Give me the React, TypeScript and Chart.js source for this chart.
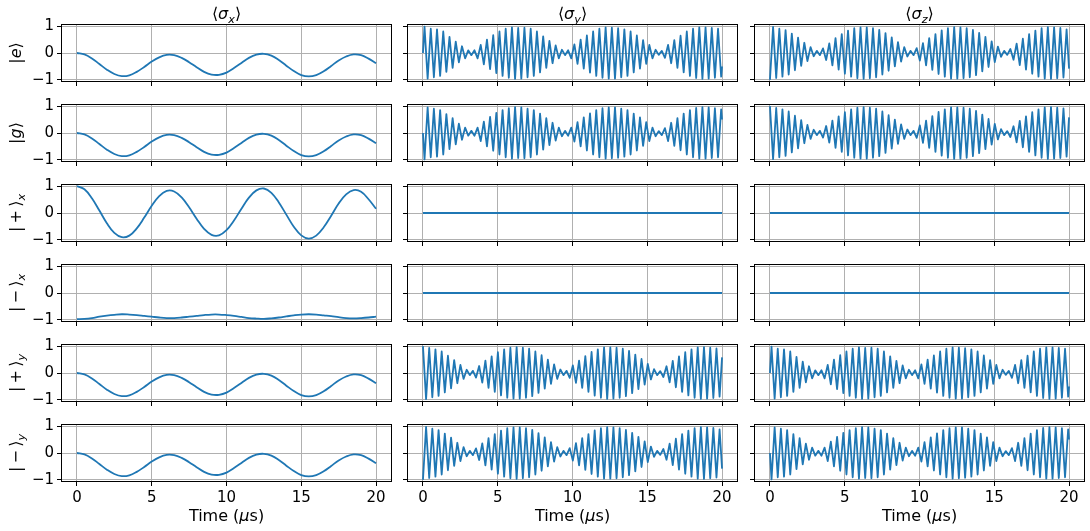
import { useEffect, useRef } from "react";
import { Chart, registerables } from "chart.js";

Chart.register(...registerables);

// ---------------- DATA ----------------
type Seg = { t: string; i?: boolean; sub?: boolean };

const columnTitles: Seg[][] = [
  [{ t: "\u27E8" }, { t: "σ", i: true }, { t: "x", i: true, sub: true }, { t: "\u27E9" }],
  [{ t: "\u27E8" }, { t: "σ", i: true }, { t: "y", i: true, sub: true }, { t: "\u27E9" }],
  [{ t: "\u27E8" }, { t: "σ", i: true }, { t: "z", i: true, sub: true }, { t: "\u27E9" }],
];

const rowLabels: Seg[][] = [
  [{ t: "|" }, { t: "e", i: true }, { t: "\u27E9" }],
  [{ t: "|" }, { t: "g", i: true }, { t: "\u27E9" }],
  [{ t: "|\u2009+\u2009\u27E9" }, { t: "x", i: true, sub: true }],
  [{ t: "|\u2009\u2212\u2009\u27E9" }, { t: "x", i: true, sub: true }],
  [{ t: "|\u2009+\u2009\u27E9" }, { t: "y", i: true, sub: true }],
  [{ t: "|\u2009\u2212\u2009\u27E9" }, { t: "y", i: true, sub: true }],
];

const xAxisLabel: Seg[] = [{ t: "Time (" }, { t: "μ", i: true }, { t: "s)" }];

const xTickValues = [0, 5, 10, 15, 20];
const yTickValues = [-1, 0, 1];

// slow ⟨σx⟩ curves, sampled every 0.5 µs
const slowTimes = Array.from({ length: 41 }, (_, i) => i * 0.5);
const sigmaXCommon = [
  0, -0.05, -0.2, -0.41, -0.62, -0.78, -0.86, -0.83, -0.7, -0.52, -0.32, -0.16, -0.07, -0.08,
  -0.18, -0.34, -0.53, -0.7, -0.8, -0.81, -0.73, -0.56, -0.37, -0.18, -0.06, -0.03, -0.1, -0.26,
  -0.47, -0.67, -0.82, -0.87, -0.82, -0.68, -0.48, -0.28, -0.13, -0.05, -0.08, -0.21, -0.38,
];
const sigmaXPlusX = [
  1.0, 0.88, 0.55, 0.09, -0.38, -0.74, -0.9, -0.84, -0.57, -0.17, 0.27, 0.63, 0.82, 0.8, 0.58,
  0.21, -0.21, -0.59, -0.81, -0.83, -0.64, -0.28, 0.16, 0.57, 0.84, 0.91, 0.75, 0.39, -0.06,
  -0.51, -0.83, -0.95, -0.84, -0.53, -0.1, 0.35, 0.69, 0.85, 0.79, 0.51, 0.16,
];
const sigmaXMinusX = [
  -0.97, -0.96, -0.93, -0.88, -0.84, -0.81, -0.79, -0.8, -0.82, -0.85, -0.88, -0.91, -0.93,
  -0.93, -0.91, -0.88, -0.85, -0.82, -0.8, -0.8, -0.82, -0.85, -0.89, -0.93, -0.95, -0.96,
  -0.94, -0.91, -0.87, -0.83, -0.8, -0.79, -0.8, -0.83, -0.86, -0.9, -0.93, -0.94, -0.93,
  -0.91, -0.88,
];

// fast oscillations: successive extremes, one every half period
const fastHalfPeriod = 0.2088;
const fastSinPeaks = [
  0.98, -0.95, 0.9, -0.9, 0.88, -0.85, 0.8, -0.7, 0.6, -0.55,
  0.42, -0.35, 0.25, -0.2, 0.1, -0.08, 0.1, -0.2, 0.3, -0.42,
  0.5, -0.6, 0.66, -0.75, 0.8, -0.85, 0.9, -0.92, 0.95, -0.96,
  0.93, -0.95, 0.94, -0.9, 0.9, -0.85, 0.8, -0.72, 0.62, -0.55,
  0.45, -0.38, 0.28, -0.2, 0.12, -0.08, 0.1, -0.2, 0.32, -0.4,
  0.5, -0.58, 0.65, -0.73, 0.8, -0.85, 0.9, -0.92, 0.95, -0.95,
  0.94, -0.95, 0.92, -0.9, 0.88, -0.85, 0.8, -0.72, 0.65, -0.58,
  0.48, -0.4, 0.3, -0.2, 0.12, -0.07, 0.08, -0.18, 0.3, -0.38,
  0.48, -0.55, 0.64, -0.72, 0.8, -0.85, 0.9, -0.93, 0.95, -0.96,
  0.95, -0.95, 0.93, -0.92, 0.9, -0.88,
];
const fastCosPeaks = [
  1.0, -0.97, 0.93, -0.9, 0.88, -0.85, 0.8, -0.72, 0.64, -0.57,
  0.48, -0.38, 0.3, -0.22, 0.12, -0.08, 0.08, -0.17, 0.26, -0.36,
  0.46, -0.55, 0.62, -0.7, 0.77, -0.83, 0.88, -0.92, 0.94, -0.95,
  0.96, -0.95, 0.94, -0.92, 0.9, -0.86, 0.8, -0.74, 0.66, -0.58,
  0.5, -0.4, 0.32, -0.22, 0.13, -0.08, 0.08, -0.18, 0.28, -0.37,
  0.46, -0.55, 0.63, -0.7, 0.78, -0.84, 0.88, -0.92, 0.95, -0.96,
  0.95, -0.95, 0.94, -0.92, 0.9, -0.86, 0.82, -0.75, 0.68, -0.6,
  0.52, -0.43, 0.34, -0.24, 0.14, -0.08, 0.07, -0.15, 0.25, -0.35,
  0.45, -0.53, 0.62, -0.7, 0.77, -0.83, 0.88, -0.92, 0.95, -0.96,
  0.96, -0.95, 0.94, -0.93, 0.91, -0.88,
];
const fastSinStartEnd = [0, -0.5];
const fastCosEnd = 0.58;

const flatTimes = [0, 20];
const flatValues = [0, 0];

// ---------------- BUILD SERIES ----------------
const fastSinTimes = [0, ...fastSinPeaks.map((_, k) => fastHalfPeriod * (k + 0.5)), 20];
const fastSinValues = [fastSinStartEnd[0], ...fastSinPeaks, fastSinStartEnd[1]];
const fastCosTimes = [...fastCosPeaks.map((_, k) => fastHalfPeriod * k), 20];
const fastCosValues = [...fastCosPeaks, fastCosEnd];
const mirror = (a: number[]) => a.map((v) => -v);

type Series = { t: number[]; v: number[]; smooth?: boolean };
const common: Series = { t: slowTimes, v: sigmaXCommon, smooth: true };
const flat: Series = { t: flatTimes, v: flatValues };
const sinS: Series = { t: fastSinTimes, v: fastSinValues };
const sinM: Series = { t: fastSinTimes, v: mirror(fastSinValues) };
const cosS: Series = { t: fastCosTimes, v: fastCosValues };
const cosM: Series = { t: fastCosTimes, v: mirror(fastCosValues) };

const panelSeries: Series[][] = [
  [common, sinS, cosM],
  [common, sinM, cosS],
  [{ t: slowTimes, v: sigmaXPlusX, smooth: true }, flat, flat],
  [{ t: slowTimes, v: sigmaXMinusX, smooth: true }, flat, flat],
  [common, cosS, sinS],
  [common, cosM, sinM],
];

// ---------------- LAYOUT ----------------
const W = 1090;
const H = 531;
const colLeft = [62, 408, 755];
const colRight = [391, 737, 1084];
const rowTop = [25, 105, 185, 265, 345, 425];
const plotH = 56;
const FONT = '"DejaVu Sans", sans-serif';
const titleBaseline = 19;
const xLabelBaseline = 521;
const rowLabelBaselineX = 21;
const labelSize = 16;

function drawRich(ctx: CanvasRenderingContext2D, segs: Seg[], cx: number, baseY: number, size: number) {
  const fontFor = (s: Seg) => `${s.i ? "italic " : ""}${s.sub ? size * 0.7 : size}px ${FONT}`;
  ctx.textAlign = "left";
  ctx.textBaseline = "alphabetic";
  ctx.fillStyle = "#000";
  const widths = segs.map((s) => {
    ctx.font = fontFor(s);
    return ctx.measureText(s.t).width;
  });
  const total = widths.reduce((a, b) => a + b, 0);
  let x = cx - total / 2;
  segs.forEach((s, i) => {
    ctx.font = fontFor(s);
    ctx.fillText(s.t, x, baseY + (s.sub ? size * 0.22 : 0));
    x += widths[i];
  });
}

const framePlugin = {
  id: "frame",
  afterDatasetsDraw(chart: any) {
    const { ctx, chartArea: a } = chart;
    ctx.save();
    ctx.strokeStyle = "#000";
    ctx.lineWidth = 1;
    ctx.strokeRect(a.left - 0.5, a.top - 0.5, a.right - a.left + 1, a.bottom - a.top + 1);
    ctx.restore();
  },
};

function makeTextPlugin(r: number, c: number) {
  return {
    id: "figText",
    afterDraw(chart: any) {
      const { ctx, chartArea: a } = chart;
      const cx = (a.left + a.right) / 2;
      const cy = (a.top + a.bottom) / 2;
      ctx.save();
      if (r === 0) drawRich(ctx, columnTitles[c], cx, titleBaseline, labelSize);
      if (r === 5) drawRich(ctx, xAxisLabel, cx, xLabelBaseline, labelSize);
      if (c === 0) {
        ctx.translate(rowLabelBaselineX, cy);
        ctx.rotate(-Math.PI / 2);
        drawRich(ctx, rowLabels[r], 0, 0, labelSize);
      }
      ctx.restore();
    },
  };
}

function makeConfig(r: number, c: number): any {
  const left = colLeft[c];
  const right = colRight[c];
  const top = rowTop[r];
  const bottom = top + plotH;
  const yW = 50;
  const xH = 40;
  const s = panelSeries[r][c];
  const grid = {
    color: "#b0b0b0",
    lineWidth: 1,
    tickColor: "#000",
    tickLength: 5,
    tickWidth: 1,
    drawTicks: true,
  };
  const tickFont = { family: FONT, size: 15 };
  return {
    type: "line",
    data: {
      datasets: [
        {
          data: s.t.map((t, i) => ({ x: t, y: s.v[i] })),
          borderColor: "#1f77b4",
          borderWidth: 1.8,
          pointRadius: 0,
          fill: false,
          tension: s.smooth ? 0.4 : 0,
          borderJoinStyle: "round",
        },
      ],
    },
    options: {
      animation: false,
      responsive: false,
      events: [],
      layout: { padding: { left: left - yW, right: W - right, top, bottom: H - bottom - xH } },
      plugins: { legend: { display: false }, tooltip: { enabled: false }, title: { display: false } },
      scales: {
        x: {
          type: "linear",
          min: -1,
          max: 21,
          afterBuildTicks: (sc: any) => {
            sc.ticks = xTickValues.map((v) => ({ value: v }));
          },
          afterFit: (sc: any) => {
            sc.height = xH;
          },
          grid,
          border: { display: false },
          ticks: {
            display: r === 5,
            font: tickFont,
            color: "#000",
            padding: 3,
            maxRotation: 0,
            autoSkip: false,
            callback: (v: number) => String(v),
          },
        },
        y: {
          type: "linear",
          min: -1.04,
          max: 1.04,
          afterBuildTicks: (sc: any) => {
            sc.ticks = yTickValues.map((v) => ({ value: v }));
          },
          afterFit: (sc: any) => {
            sc.width = yW;
          },
          grid,
          border: { display: false },
          ticks: {
            display: c === 0,
            font: tickFont,
            color: "#000",
            padding: 3,
            autoSkip: false,
            callback: (v: number) => (v < 0 ? "\u2212" + Math.abs(v) : String(v)),
          },
        },
      },
    },
    plugins: [framePlugin, makeTextPlugin(r, c)],
  };
}

const cells: [number, number][] = [];
for (let r = 0; r < 6; r++) for (let c = 0; c < 3; c++) cells.push([r, c]);

export default function App() {
  const refs = useRef<(HTMLCanvasElement | null)[]>([]);
  useEffect(() => {
    const charts = cells.map(([r, c], i) => new Chart(refs.current[i] as HTMLCanvasElement, makeConfig(r, c)));
    return () => charts.forEach((ch) => ch.destroy());
  }, []);
  return (
    <div style={{ position: "absolute", left: 0, top: 0, width: W, height: H, background: "#fff" }}>
      {cells.map((_, i) => (
        <canvas
          key={i}
          ref={(el) => {
            refs.current[i] = el;
          }}
          width={W}
          height={H}
          style={{ position: "absolute", left: 0, top: 0, width: W, height: H }}
        />
      ))}
    </div>
  );
}
